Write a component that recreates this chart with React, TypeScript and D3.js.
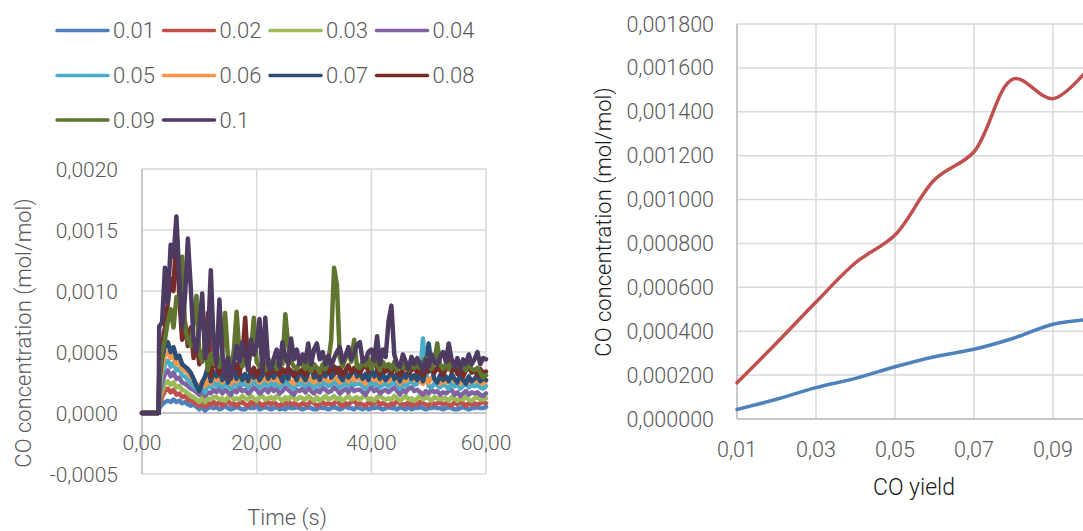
import React from 'react';
import * as d3 from 'd3';

// ---------- Left chart: CO concentration vs time, per CO yield ----------
const TIME_S = [
  0, 2.9,
  3, 3.5, 4, 4.5, 5, 5.5, 6, 6.5, 7, 7.5,
  8, 8.5, 9, 9.5, 10, 10.5, 11, 11.5, 12, 12.5,
  13, 13.5, 14, 14.5, 15, 15.5, 16, 16.5, 17, 17.5,
  18, 18.5, 19, 19.5, 20, 20.5, 21, 21.5, 22, 22.5,
  23, 23.5, 24, 24.5, 25, 25.5, 26, 26.5, 27, 27.5,
  28, 28.5, 29, 29.5, 30, 30.5, 31, 31.5, 32, 32.5,
  33, 33.5, 34, 34.5, 35, 35.5, 36, 36.5, 37, 37.5,
  38, 38.5, 39, 39.5, 40, 40.5, 41, 41.5, 42, 42.5,
  43, 43.5, 44, 44.5, 45, 45.5, 46, 46.5, 47, 47.5,
  48, 48.5, 49, 49.5, 50, 50.5, 51, 51.5, 52, 52.5,
  53, 53.5, 54, 54.5, 55, 55.5, 56, 56.5, 57, 57.5,
  58, 58.5, 59, 59.5, 60,
];

// values in units of 1e-5 mol/mol
const CONC_UNIT = 1e-5;

const S_001 = [0, 0,
  4, 7, 9, 10, 9, 11, 9, 10, 8, 9,
  7, 6, 7, 5, 3, 5, 2, 4, 5, 4,
  5, 3, 4, 6, 4, 3, 4, 5, 4, 3,
  3, 5, 4, 4, 6, 3, 4, 5, 4, 3,
  4, 5, 3, 4, 3, 5, 4, 4, 5, 4,
  3, 4, 5, 4, 3, 3, 5, 4, 4, 3,
  4, 5, 4, 3, 4, 6, 4, 4, 3, 5,
  4, 3, 5, 3, 4, 4, 5, 4, 3, 4,
  5, 4, 4, 3, 5, 4, 3, 5, 3, 4,
  4, 5, 4, 3, 4, 4, 5, 4, 4, 3,
  4, 5, 4, 3, 3, 4, 5, 4, 3, 4,
  4, 5, 4, 4, 5];
const S_002 = [0, 0,
  7, 13, 18, 20, 17, 19, 15, 16, 13, 14,
  11, 10, 9, 7, 6, 9, 5, 8, 7, 9,
  7, 9, 6, 8, 10, 7, 8, 6, 8, 9,
  7, 6, 9, 7, 10, 8, 6, 8, 9, 7,
  9, 7, 6, 8, 7, 10, 7, 8, 7, 6,
  8, 7, 7, 10, 8, 6, 7, 9, 7, 8,
  7, 8, 10, 7, 6, 8, 7, 9, 10, 7,
  8, 7, 6, 9, 7, 8, 10, 7, 8, 7,
  6, 8, 7, 10, 8, 7, 7, 9, 6, 8,
  7, 9, 8, 7, 6, 9, 7, 8, 9, 7,
  8, 7, 6, 9, 7, 9, 8, 6, 8, 7,
  8, 7, 8, 9, 8];
const S_003 = [0, 0,
  10, 18, 24, 26, 23, 25, 21, 22, 19, 18,
  16, 14, 13, 11, 9, 13, 9, 12, 11, 13,
  13, 11, 12, 10, 13, 14, 11, 12, 11, 14,
  12, 11, 14, 12, 10, 13, 14, 11, 12, 13,
  11, 14, 12, 10, 13, 11, 14, 12, 11, 13,
  12, 11, 14, 12, 10, 13, 10, 12, 14, 11,
  12, 14, 11, 13, 10, 12, 14, 11, 12, 13,
  11, 13, 14, 11, 12, 10, 13, 14, 12, 11,
  12, 11, 14, 12, 10, 12, 14, 11, 12, 10,
  12, 14, 11, 13, 12, 10, 13, 12, 11, 12,
  12, 10, 13, 12, 10, 12, 11, 13, 11, 10,
  12, 13, 11, 11, 12];
const S_004 = [0, 0,
  14, 25, 32, 35, 30, 33, 28, 29, 25, 24,
  22, 20, 19, 17, 15, 18, 14, 17, 16, 19,
  17, 20, 16, 19, 17, 15, 19, 17, 21, 18,
  19, 16, 18, 21, 19, 16, 18, 20, 17, 21,
  18, 20, 16, 18, 21, 19, 17, 15, 19, 18,
  20, 17, 21, 18, 16, 19, 17, 21, 19, 17,
  18, 21, 19, 16, 18, 20, 17, 21, 18, 19,
  19, 17, 15, 19, 21, 18, 20, 16, 18, 19,
  17, 19, 21, 18, 15, 19, 17, 20, 21, 18,
  19, 17, 15, 18, 16, 19, 17, 18, 15, 17,
  16, 18, 19, 15, 17, 14, 16, 18, 15, 17,
  16, 17, 15, 14, 16];
const S_005 = [0, 0,
  18, 32, 40, 43, 38, 41, 35, 36, 31, 30,
  27, 25, 22, 20, 18, 22, 17, 24, 21, 25,
  22, 26, 21, 24, 22, 20, 25, 22, 26, 23,
  24, 21, 23, 26, 24, 21, 23, 25, 22, 26,
  23, 25, 21, 23, 26, 24, 22, 20, 24, 23,
  25, 22, 26, 23, 21, 24, 22, 26, 24, 22,
  23, 26, 24, 21, 23, 25, 22, 26, 23, 24,
  24, 22, 20, 24, 26, 23, 25, 21, 23, 24,
  22, 24, 26, 23, 20, 24, 22, 25, 26, 23,
  24, 30, 61, 35, 22, 21, 24, 23, 21, 24,
  22, 20, 24, 22, 23, 20, 22, 24, 21, 23,
  22, 23, 21, 20, 22];
const S_006 = [0, 0,
  22, 38, 48, 50, 45, 47, 40, 42, 36, 35,
  33, 30, 27, 24, 20, 26, 22, 30, 24, 29,
  27, 30, 25, 28, 26, 24, 29, 26, 30, 27,
  28, 25, 27, 30, 28, 25, 27, 29, 26, 30,
  27, 29, 25, 27, 30, 28, 26, 24, 28, 27,
  29, 26, 30, 27, 25, 28, 26, 30, 28, 26,
  27, 30, 28, 25, 27, 29, 26, 30, 27, 28,
  28, 26, 24, 28, 30, 27, 29, 25, 27, 28,
  26, 28, 30, 27, 24, 28, 26, 29, 30, 27,
  28, 26, 24, 28, 25, 29, 27, 26, 24, 27,
  25, 27, 29, 26, 27, 24, 26, 28, 25, 27,
  26, 27, 25, 24, 26];
const S_007 = [0, 0,
  25, 45, 55, 58, 50, 54, 45, 47, 40, 38,
  36, 33, 28, 22, 18, 25, 30, 38, 26, 34,
  30, 36, 27, 33, 25, 31, 37, 28, 34, 27,
  32, 26, 35, 29, 33, 27, 31, 36, 28, 33,
  29, 34, 31, 26, 33, 28, 35, 31, 27, 34,
  31, 27, 33, 37, 29, 32, 27, 34, 30, 36,
  29, 32, 37, 30, 27, 34, 29, 32, 36, 30,
  33, 28, 32, 27, 37, 30, 34, 28, 32, 27,
  30, 34, 28, 32, 26, 33, 29, 35, 28, 31,
  27, 32, 26, 35, 57, 38, 28, 25, 31, 27,
  30, 26, 32, 28, 25, 31, 27, 24, 30, 26,
  28, 31, 26, 29, 27];
const S_008 = [0, 0,
  30, 55, 70, 90, 110, 100, 153, 95, 60, 75,
  55, 70, 45, 60, 40, 50, 45, 82, 30, 45,
  38, 32, 42, 36, 30, 44, 35, 40, 32, 45,
  78, 38, 33, 37, 30, 36, 33, 38, 31, 35,
  34, 38, 31, 36, 33, 37, 34, 30, 36, 33,
  36, 31, 35, 39, 33, 37, 31, 35, 38, 33,
  35, 38, 33, 37, 31, 35, 39, 33, 37, 35,
  33, 37, 40, 34, 38, 50, 36, 32, 38, 34,
  37, 33, 38, 34, 31, 36, 39, 33, 35, 38,
  33, 36, 31, 38, 34, 40, 33, 37, 35, 31,
  36, 52, 34, 38, 32, 37, 30, 35, 38, 33,
  35, 31, 36, 33, 34];
const S_009 = [0, 0,
  28, 50, 60, 75, 85, 70, 95, 90, 128, 70,
  60, 55, 75, 96, 50, 42, 55, 35, 48, 40,
  45, 38, 50, 82, 45, 40, 50, 83, 48, 38,
  45, 40, 50, 78, 42, 38, 40, 35, 45, 38,
  42, 36, 45, 40, 81, 55, 42, 38, 36, 42,
  40, 36, 42, 34, 40, 37, 33, 40, 36, 42,
  60, 119, 105, 45, 38, 45, 50, 42, 60, 38,
  37, 42, 39, 45, 36, 42, 40, 35, 42, 38,
  40, 36, 42, 35, 40, 37, 41, 35, 40, 37,
  40, 37, 42, 45, 39, 36, 42, 57, 40, 36,
  40, 36, 42, 38, 41, 36, 40, 35, 42, 36,
  35, 37, 33, 29, 31];
const S_010 = [0, 0,
  71, 74, 119, 90, 138, 128, 161, 112, 70, 95,
  143, 103, 60, 50, 70, 98, 45, 60, 117, 55,
  40, 93, 50, 30, 45, 28, 40, 55, 42, 58,
  50, 35, 60, 48, 55, 77, 32, 78, 40, 35,
  45, 52, 38, 58, 46, 40, 61, 44, 52, 40,
  48, 42, 57, 40, 52, 57, 44, 50, 40, 47,
  38, 45, 50, 54, 42, 47, 54, 44, 49, 56,
  58, 42, 44, 50, 52, 43, 63, 40, 52, 46,
  75, 88, 48, 40, 38, 48, 42, 36, 46, 40,
  45, 40, 35, 44, 38, 48, 42, 40, 46, 50,
  42, 57, 44, 38, 45, 36, 44, 40, 48, 40,
  44, 50, 40, 45, 44];

const SERIES_NAMES = ['0.01', '0.02', '0.03', '0.04', '0.05', '0.06', '0.07', '0.08', '0.09', '0.1'];
const SERIES_VALUES = [S_001, S_002, S_003, S_004, S_005, S_006, S_007, S_008, S_009, S_010];
const SERIES_COLORS = ['#4f81bd', '#c0504d', '#9bbb59', '#8064a2', '#4bacc6', '#f79646', '#2c4d75', '#772c2a', '#5f7530', '#4d3b62'];

const LEFT_Y_TICKS = [-0.0005, 0, 0.0005, 0.001, 0.0015, 0.002];
const LEFT_X_TICKS = [0, 20, 40, 60];

// ---------- Right chart: CO concentration vs CO yield ----------
const YIELDS = [0.01, 0.02, 0.03, 0.04, 0.05, 0.06, 0.07, 0.08, 0.09, 0.1];
const CONC_RED = [0.000165, 0.000346, 0.000533, 0.000712, 0.000838, 0.00109, 0.001218, 0.00155, 0.00146, 0.00162];
const CONC_BLUE = [0.0000435, 0.00009, 0.000143, 0.000185, 0.000238, 0.000284, 0.000318, 0.000368, 0.000432, 0.000455];
const RIGHT_Y_TICKS = [0, 0.0002, 0.0004, 0.0006, 0.0008, 0.001, 0.0012, 0.0014, 0.0016, 0.0018];
const RIGHT_X_TICKS = [0.01, 0.03, 0.05, 0.07, 0.09];
const RIGHT_X_GRID = [0.01, 0.03, 0.05, 0.07, 0.09, 0.11];

const FONT = "Roboto, 'Open Sans', sans-serif";
const GRID = '#d9d9d9';
const LABEL = '#595959';

const comma = (s: string) => s.replace('.', ',').replace('\u2212', '-');

export default function App() {
  const lx = d3.scaleLinear().domain([0, 60]).range([142, 486]);
  const ly = d3.scaleLinear().domain([-0.0005, 0.002]).range([474, 169]);
  const rx = d3.scaleLinear().domain([0.01, 0.09]).range([737, 1053]);
  const ry = d3.scaleLinear().domain([0, 0.0018]).range([419, 24]);

  const fmtL = d3.format('.4f');
  const fmtLX = d3.format('.2f');
  const fmtR = d3.format('.6f');
  const fmtRX = d3.format('.2f');

  const leftLine = d3.line<number>()
    .x((_, i) => lx(TIME_S[i]))
    .y((v) => ly(v * CONC_UNIT))
    .curve(d3.curveLinear);

  const rightLine = d3.line<number>()
    .x((_, i) => rx(YIELDS[i]))
    .y((v) => ry(v))
    .curve(d3.curveCatmullRom.alpha(0.5));

  const legendCols = [57, 163.5, 270, 376.5];
  const legendRows = [30.5, 75.5, 120];

  return (
    <svg width={1083} height={531} style={{ position: 'absolute', left: 0, top: 0, background: '#fff' }} fontFamily={FONT} fontWeight={300}>
      <rect x={0} y={0} width={1083} height={531} fill="#fff" />
      {SERIES_NAMES.map((name, i) => {
        const cx = legendCols[i % 4];
        const cy = legendRows[Math.floor(i / 4)];
        return (
          <g key={name}>
            <line x1={cx} x2={cx + 51} y1={cy} y2={cy} stroke={SERIES_COLORS[i]} strokeWidth={3.5} strokeLinecap="round" />
            <text x={cx + 56} y={cy + 7.5} fontSize={22} fill={LABEL}>{name}</text>
          </g>
        );
      })}

      {LEFT_Y_TICKS.map((t) => (
        <line key={'lyg' + t} x1={lx(0)} x2={lx(60)} y1={ly(t)} y2={ly(t)} stroke={GRID} strokeWidth={1.5} />
      ))}
      {LEFT_X_TICKS.map((t) => (
        <line key={'lxg' + t} x1={lx(t)} x2={lx(t)} y1={ly(0.002)} y2={ly(-0.0005)} stroke={GRID} strokeWidth={1.5} />
      ))}
      <line x1={lx(0)} x2={lx(60)} y1={ly(0)} y2={ly(0)} stroke="#bfbfbf" strokeWidth={1.5} />
      <line x1={lx(0)} x2={lx(0)} y1={ly(0.002)} y2={ly(-0.0005)} stroke="#bfbfbf" strokeWidth={1.5} />

      {SERIES_VALUES.map((vals, i) => (
        <path key={'ls' + i} d={leftLine(vals) || ''} fill="none" stroke={SERIES_COLORS[i]} strokeWidth={4.5} strokeLinejoin="round" strokeLinecap="round" />
      ))}

      {LEFT_Y_TICKS.map((t) => (
        <text key={'lyt' + t} x={118} y={ly(t) + 7.5} fontSize={21} fill={LABEL} textAnchor="end">{comma(fmtL(t))}</text>
      ))}
      {LEFT_X_TICKS.map((t) => (
        <text key={'lxt' + t} x={lx(t)} y={450} fontSize={21} fill={LABEL} textAnchor="middle">{comma(fmtLX(t))}</text>
      ))}
      <text x={287} y={525} fontSize={22} fill={LABEL} textAnchor="middle">Time (s)</text>
      <text transform={`translate(31,333) rotate(-90)`} fontSize={22} fill={LABEL} textAnchor="middle">CO concentration (mol/mol)</text>

      {RIGHT_Y_TICKS.map((t) => (
        <line key={'ryg' + t} x1={rx(0.01)} x2={1100} y1={ry(t)} y2={ry(t)} stroke={GRID} strokeWidth={1.5} />
      ))}
      {RIGHT_X_GRID.map((t) => (
        <line key={'rxg' + t} x1={rx(t)} x2={rx(t)} y1={ry(0.0018)} y2={ry(0)} stroke={GRID} strokeWidth={1.5} />
      ))}
      <line x1={rx(0.01)} x2={rx(0.01)} y1={ry(0.0018)} y2={ry(0)} stroke="#bfbfbf" strokeWidth={1.5} />
      <line x1={rx(0.01)} x2={1100} y1={ry(0)} y2={ry(0)} stroke="#bfbfbf" strokeWidth={1.5} />

      <path d={rightLine(CONC_BLUE) || ''} fill="none" stroke="#4f81bd" strokeWidth={3.5} strokeLinecap="round" />
      <path d={rightLine(CONC_RED) || ''} fill="none" stroke="#c0504d" strokeWidth={3.5} strokeLinecap="round" />

      {RIGHT_Y_TICKS.map((t) => (
        <text key={'ryt' + t} x={714} y={ry(t) + 7.5} fontSize={21.5} fill={LABEL} textAnchor="end">{comma(fmtR(t))}</text>
      ))}
      {RIGHT_X_TICKS.map((t) => (
        <text key={'rxt' + t} x={rx(t)} y={457} fontSize={21.5} fill={LABEL} textAnchor="middle">{comma(fmtRX(t))}</text>
      ))}
      <text x={914} y={495} fontSize={23} fill="#1a1a1a" textAnchor="middle">CO yield</text>
      <text transform={`translate(611,222) rotate(-90)`} fontSize={22} fill="#1a1a1a" textAnchor="middle">CO concentration (mol/mol)</text>
    </svg>
  );
}
